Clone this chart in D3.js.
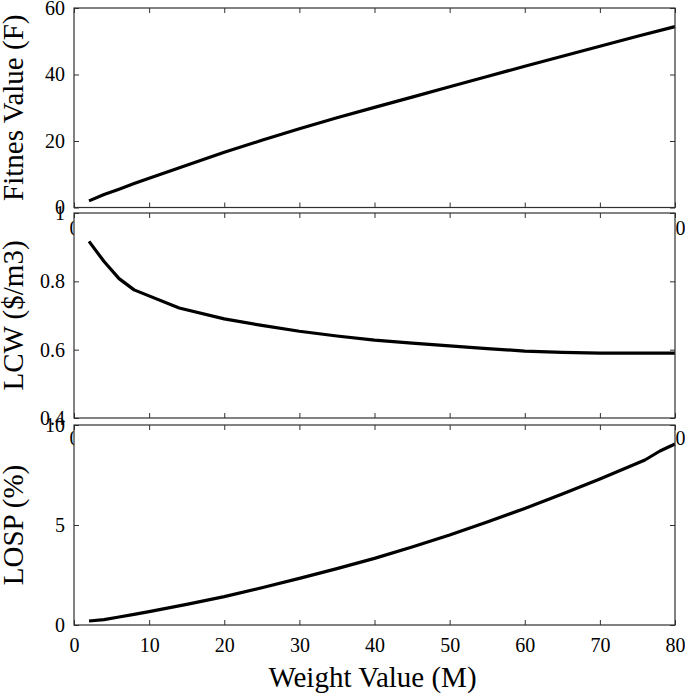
<!DOCTYPE html>
<html>
<head>
<meta charset="utf-8">
<script src="https://cdn.jsdelivr.net/npm/d3@7"></script>
<style>
  html, body { margin: 0; padding: 0; background: #fff; }
  svg { display: block; }
  svg text { font-family: "Liberation Serif", "Times New Roman", Times, "DejaVu Serif", serif !important; fill: #000; }
</style>
</head>
<body>
<svg id="chart" width="685" height="697"></svg>
<script>
// ---- data ----
const xFit = [2, 4, 6, 8, 10, 15, 20, 25, 30, 35, 40, 45, 50, 55, 60, 65, 70, 75, 80];
const fitness = [2.0, 3.9, 5.5, 7.2, 8.8, 12.7, 16.6, 20.2, 23.7, 27.0, 30.1, 33.2, 36.3, 39.4, 42.5, 45.5, 48.5, 51.5, 54.4];

const xLcw = [2, 4, 6, 8, 14, 20, 25, 30, 35, 40, 45, 50, 55, 60, 65, 70, 75, 80];
const lcw = [0.917, 0.858, 0.808, 0.775, 0.722, 0.690, 0.671, 0.654, 0.640, 0.628, 0.619, 0.611, 0.603, 0.596, 0.592, 0.590, 0.590, 0.590];

const xLosp = [2, 4, 6, 8, 10, 15, 20, 25, 30, 35, 40, 45, 50, 55, 60, 65, 70, 76, 78, 80];
const losp = [0.2, 0.27, 0.4, 0.53, 0.67, 1.03, 1.42, 1.86, 2.33, 2.82, 3.33, 3.9, 4.5, 5.15, 5.83, 6.55, 7.3, 8.25, 8.7, 9.05];

const xTicks = [0, 10, 20, 30, 40, 50, 60, 70, 80];
const fitTicks = [0, 20, 40, 60];
const lcwTicks = [0.4, 0.6, 0.8, 1];
const lospTicks = [0, 5, 10];

const yTitles = ["Fitnes Value (F)", "LCW ($/m3)", "LOSP (%)"];
const xTitle = "Weight Value (M)";

// ---- layout ----
const FONT = '"Liberation Serif", "Times New Roman", Times, "DejaVu Serif", serif';
const svg = d3.select("#chart");
const left = 74, right = 675;
const panels = [
  { top: 8, bottom: 207.5, domain: [0, 60], ticks: fitTicks, xs: xFit, ys: fitness, fmt: d3.format("d"), title: yTitles[0] },
  { top: 213, bottom: 418, domain: [0.4, 1], ticks: lcwTicks, xs: xLcw, ys: lcw, fmt: d => (d === 1 ? "1" : d3.format(".1f")(d)), title: yTitles[1] },
  { top: 425, bottom: 625, domain: [0, 10], ticks: lospTicks, xs: xLosp, ys: losp, fmt: d3.format("d"), title: yTitles[2] }
];

const x = d3.scaleLinear().domain([0, 80]).range([left, right]);
const axisColor = "#303030";
const fs = 20;

panels.forEach((p, i) => {
  const y = d3.scaleLinear().domain(p.domain).range([p.bottom, p.top]);
  const g = svg.append("g");

  g.append("rect").attr("x", left).attr("y", p.top)
    .attr("width", right - left).attr("height", p.bottom - p.top)
    .attr("fill", "#fff");

  const pts = p.xs.map((d, k) => [d, p.ys[k]]);
  g.append("path").datum(pts)
    .attr("fill", "none").attr("stroke", "#000").attr("stroke-width", 3.2)
    .attr("stroke-linejoin", "round")
    .attr("d", d3.line().x(d => x(d[0])).y(d => y(d[1])));

  const styleAxis = sel => {
    sel.attr("font-family", FONT).attr("font-size", fs);
    sel.select(".domain").remove();
    sel.selectAll(".tick line").attr("stroke", axisColor).attr("stroke-width", 1);
    sel.selectAll("text").style("font-family", FONT).style("font-size", fs + "px").attr("fill", "#000");
  };

  g.append("g").attr("transform", `translate(0,${p.bottom})`)
    .call(d3.axisBottom(x).tickValues(xTicks).tickSize(-5).tickPadding(13).tickFormat(d3.format("d")))
    .call(styleAxis);
  g.append("g").attr("transform", `translate(0,${p.top})`)
    .call(d3.axisTop(x).tickValues(xTicks).tickSize(-5).tickFormat(""))
    .call(styleAxis);
  g.append("g").attr("transform", `translate(${left},0)`)
    .call(d3.axisLeft(y).tickValues(p.ticks).tickSize(-5).tickPadding(9).tickFormat(p.fmt))
    .call(styleAxis);
  g.append("g").attr("transform", `translate(${right},0)`)
    .call(d3.axisRight(y).tickValues(p.ticks).tickSize(-5).tickFormat(""))
    .call(styleAxis);

  g.append("rect").attr("x", left).attr("y", p.top)
    .attr("width", right - left).attr("height", p.bottom - p.top)
    .attr("fill", "none").attr("stroke", axisColor).attr("stroke-width", 1.2);

  g.append("text")
    .attr("transform", `translate(23,${(p.top + p.bottom) / 2}) rotate(-90)`)
    .attr("text-anchor", "middle")
    .style("font-family", FONT)
    .style("font-size", "29px")
    .text(p.title);
});

svg.append("text")
  .attr("x", (left + right) / 2 - 2).attr("y", 687)
  .attr("text-anchor", "middle")
  .style("font-family", FONT)
  .style("font-size", "29px")
  .text(xTitle);
</script>
</body>
</html>
